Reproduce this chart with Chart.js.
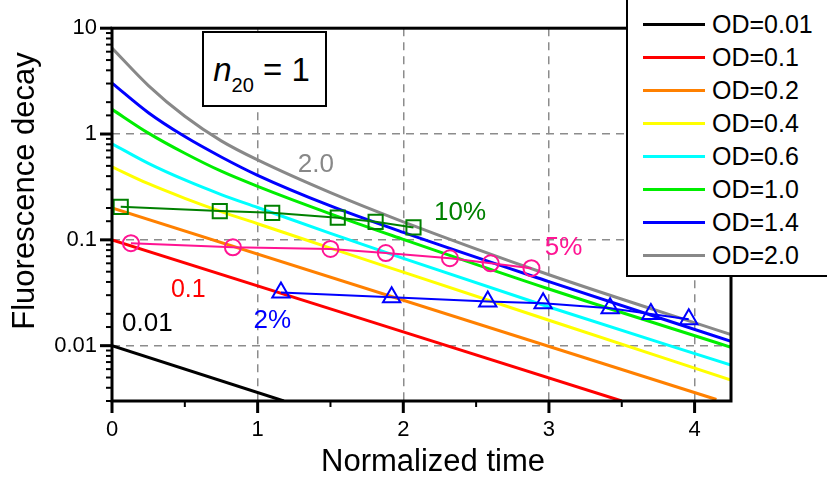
<!DOCTYPE html>
<html>
<head>
<meta charset="utf-8">
<script src="https://cdn.jsdelivr.net/npm/chart.js@4.4.1/dist/chart.umd.min.js"></script>
<style>
  html, body { margin: 0; padding: 0; background: #fff; }
  #wrap { position: relative; width: 827px; height: 486px; overflow: hidden;
          font-family: "Liberation Sans", Arial, sans-serif; color: #000; }
  #myChart { position: absolute; left: 0; top: 0; }
  #legend { position: absolute; left: 626px; top: -4px; width: 230px; height: 281px;
            border: 2px solid #000; background: #fff; box-sizing: border-box; }
  .leg-line { position: absolute; left: 643px; width: 62px; height: 3px; }
  .leg-text { position: absolute; left: 712px; font-size: 25px; line-height: 28px; white-space: nowrap; }
  #nbox { position: absolute; left: 202px; top: 31px; width: 125px; height: 76px;
          border: 2px solid #000; background: #fff; box-sizing: border-box;
          display: flex; align-items: center; justify-content: center;
          font-size: 33px; white-space: nowrap; padding: 2px 6px 0 0; }
  #nbox sub { font-size: 20px; vertical-align: baseline; position: relative; top: 11px; }
</style>
</head>
<body>
<div id="wrap">
  <canvas id="myChart" width="827" height="486"></canvas>
  <div id="nbox"><span><i>n</i><sub>20</sub> = 1</span></div>
  <div id="legend"></div>
</div>
<script>
// legend entries
const odLabels = ['OD=0.01', 'OD=0.1', 'OD=0.2', 'OD=0.4', 'OD=0.6', 'OD=1.0', 'OD=1.4', 'OD=2.0'];
const odColors = ['#000000', '#ff0000', '#ff8000', '#ffff00', '#00ffff', '#00ee00', '#0000ff', '#888888'];

// decay curves (normalized time, decay)
const od001Time = [0, 1.18];
const od001Decay = [0.01, 0.003];
const od01Time = [0, 3.5];
const od01Decay = [0.1, 0.003];
const od02Time = [0, 4.15];
const od02Decay = [0.2, 0.0031];
const curveTime = [0, 0.25, 0.5, 0.75, 1, 1.5, 2, 3, 4.25];
const od04Decay = [0.49, 0.339, 0.247, 0.185, 0.142, 0.0836, 0.0495, 0.0174, 0.00473];
const od06Decay = [0.81, 0.528, 0.368, 0.268, 0.202, 0.115, 0.0669, 0.0232, 0.00654];
const od10Decay = [1.71, 1.02, 0.658, 0.445, 0.32, 0.176, 0.101, 0.0343, 0.00966];
const od14Decay = [3.03, 1.59, 0.946, 0.607, 0.407, 0.209, 0.1175, 0.0403, 0.011];
const od20Decay = [6.5, 2.87, 1.47, 0.862, 0.569, 0.279, 0.148, 0.0468, 0.0127];

// marker series
const tenPctTime = [0.06, 0.74, 1.10, 1.55, 1.81, 2.07];
const tenPctDecay = [0.205, 0.187, 0.180, 0.162, 0.148, 0.131];
const fivePctTime = [0.13, 0.83, 1.50, 1.88, 2.32, 2.60, 2.88];
const fivePctDecay = [0.093, 0.085, 0.082, 0.075, 0.067, 0.060, 0.054];
const twoPctTime = [1.16, 1.92, 2.58, 2.96, 3.42, 3.70, 3.96];
const twoPctDecay = [0.0318, 0.0286, 0.0262, 0.0251, 0.0226, 0.0199, 0.0178];

// ticks
const xTickLabels = [0, 1, 2, 3, 4];
const yTickLabels = [0.01, 0.1, 1, 10];

// text placed on the plot, in data units
const notes = [
  { text: '2.0', x: 1.40, y: 0.515, color: '#888888', size: 26 },
  { text: '10%', x: 2.39, y: 0.181, color: '#008000', size: 26 },
  { text: '5%', x: 3.10, y: 0.0837, color: '#ff1493', size: 26 },
  { text: '0.1', x: 0.524, y: 0.0332, color: '#ff0000', size: 25 },
  { text: '0.01', x: 0.243, y: 0.0160, color: '#000000', size: 26 },
  { text: '2%', x: 1.10, y: 0.0171, color: '#0000ff', size: 26 }
];

const FONT = '"Liberation Sans", Arial, sans-serif';
Chart.defaults.font.family = FONT;
Chart.defaults.color = '#000';

function pts(xs, ys) {
  return xs.map((x, i) => ({ x: x, y: ys[i] }));
}
function isMajorY(v) {
  return yTickLabels.some(t => Math.abs(v - t) / t < 1e-6);
}
function isMajorX(v) {
  return xTickLabels.some(t => Math.abs(v - t) < 1e-6);
}

const curveData = [
  pts(od001Time, od001Decay), pts(od01Time, od01Decay), pts(od02Time, od02Decay),
  pts(curveTime, od04Decay), pts(curveTime, od06Decay), pts(curveTime, od10Decay),
  pts(curveTime, od14Decay), pts(curveTime, od20Decay)
];

const markerSets = [
  { label: '10%', data: pts(tenPctTime, tenPctDecay), borderColor: '#008000', pointStyle: 'rect', pointRadius: 10 },
  { label: '5%', data: pts(fivePctTime, fivePctDecay), borderColor: '#ff1493', pointStyle: 'circle', pointRadius: 8 },
  { label: '2%', data: pts(twoPctTime, twoPctDecay), borderColor: '#0000ff', pointStyle: 'triangle', pointRadius: 10 }
].map(d => Object.assign(d, {
  showLine: true, borderWidth: 2, pointBorderWidth: 2,
  pointBackgroundColor: 'rgba(0,0,0,0)', pointBorderColor: d.borderColor
}));

const curveSets = odLabels.map((lab, i) => ({
  label: lab,
  data: curveData[i],
  showLine: true,
  borderColor: odColors[i],
  borderWidth: 3,
  pointRadius: 0,
  cubicInterpolationMode: 'monotone'
}));

const decor = {
  id: 'decor',
  afterDraw(chart) {
    const ctx = chart.ctx;
    const a = chart.chartArea;
    const x = chart.scales.x, y = chart.scales.y;
    ctx.save();
    ctx.strokeStyle = '#000';
    // outward tick marks
    y.ticks.forEach(t => {
      const py = y.getPixelForValue(t.value);
      const major = isMajorY(t.value);
      ctx.lineWidth = major ? 3 : 2;
      ctx.beginPath();
      ctx.moveTo(a.left - (major ? 12 : 6), py);
      ctx.lineTo(a.left, py);
      ctx.stroke();
    });
    x.ticks.forEach(t => {
      const px = x.getPixelForValue(t.value);
      const major = isMajorX(t.value);
      ctx.lineWidth = major ? 3 : 2;
      ctx.beginPath();
      ctx.moveTo(px, a.bottom);
      ctx.lineTo(px, a.bottom + (major ? 12 : 6));
      ctx.stroke();
    });
    // frame
    ctx.lineWidth = 3;
    ctx.strokeRect(a.left, a.top, a.right - a.left, a.bottom - a.top);
    // notes on the plot
    ctx.textAlign = 'center';
    ctx.textBaseline = 'middle';
    notes.forEach(n => {
      ctx.fillStyle = n.color;
      ctx.font = n.size + 'px ' + FONT;
      ctx.fillText(n.text, x.getPixelForValue(n.x), y.getPixelForValue(n.y));
    });
    // axis titles
    ctx.fillStyle = '#000';
    ctx.font = '31px ' + FONT;
    ctx.fillText('Normalized time', 433, 462);
    ctx.translate(25, 191);
    ctx.rotate(-Math.PI / 2);
    ctx.fillText('Fluorescence decay', 0, 0);
    ctx.restore();
  }
};

const ctx = document.getElementById('myChart');
new Chart(ctx, {
  type: 'scatter',
  data: { datasets: markerSets.concat(curveSets) },
  options: {
    responsive: false,
    animation: false,
    layout: { padding: { left: 0, right: 96, top: 22, bottom: 0 } },
    plugins: { legend: { display: false }, tooltip: { enabled: false } },
    scales: {
      x: {
        type: 'linear', min: 0, max: 4.25,
        afterFit: s => { s.height = 85; },
        afterBuildTicks: s => {
          const ticks = [];
          xTickLabels.forEach(v => {
            ticks.push({ value: v });
            if (v + 0.5 < s.max) ticks.push({ value: v + 0.5 });
          });
          s.ticks = ticks;
        },
        ticks: {
          autoSkip: false, maxRotation: 0, padding: 16,
          font: { size: 22 }, color: '#000',
          callback: v => isMajorX(v) ? String(Math.round(v)) : ''
        },
        grid: {
          drawTicks: false, lineWidth: 1.5,
          color: c => (c.tick && isMajorX(c.tick.value) && c.tick.value > 0) ? '#8c8c8c' : 'rgba(0,0,0,0)'
        },
        border: { display: false, dash: [8, 6] }
      },
      y: {
        type: 'logarithmic', min: 0.003, max: 10,
        afterFit: s => { s.width = 112; },
        ticks: {
          autoSkip: false, padding: 15, font: { size: 22 }, color: '#000',
          callback: v => isMajorY(v) ? String(Number(v.toPrecision(4))) : ''
        },
        grid: {
          drawTicks: false, lineWidth: 1.5,
          color: c => (c.tick && isMajorY(c.tick.value) && c.tick.value < 9) ? '#8c8c8c' : 'rgba(0,0,0,0)'
        },
        border: { display: false, dash: [8, 6] }
      }
    }
  },
  plugins: [decor]
});

// legend
const wrap = document.getElementById('wrap');
odLabels.forEach((lab, i) => {
  const cy = 24 + 33 * i;
  const line = document.createElement('div');
  line.className = 'leg-line';
  line.style.top = (cy - 1.5) + 'px';
  line.style.background = odColors[i];
  wrap.appendChild(line);
  const txt = document.createElement('div');
  txt.className = 'leg-text';
  txt.style.top = (cy - 14) + 'px';
  txt.textContent = lab;
  wrap.appendChild(txt);
});
</script>
</body>
</html>
